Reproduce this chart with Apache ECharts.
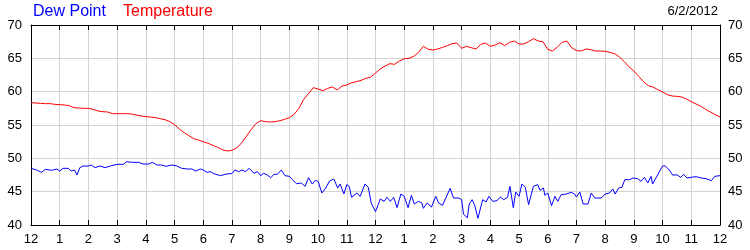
<!DOCTYPE html>
<html>
<head>
<meta charset="utf-8">
<script src="https://cdn.jsdelivr.net/npm/echarts@6/dist/echarts.min.js"></script>
<style>html,body{margin:0;padding:0;background:#fff}#c{width:750px;height:250px}</style>
</head>
<body>
<div id="c"></div>
<script>
// Temperature, every 10 minutes from midnight (145 readings)
var tempStartMin = 0;
var tempStepMin = 10;
var tempValues = [
  58.35,58.3,58.25,58.2,58.2,58.1,
  58.05,58.0,57.9,57.6,57.55,57.5,
  57.5,57.35,57.1,57.0,56.95,56.7,
  56.7,56.7,56.7,56.65,56.5,56.35,
  56.25,56.2,56.1,55.95,55.8,55.5,
  55.05,54.4,53.85,53.4,52.95,52.75,
  52.5,52.25,51.95,51.65,51.3,51.1,
  51.2,51.55,52.3,53.3,54.3,55.2,
  55.65,55.5,55.45,55.5,55.65,55.85,
  56.1,56.6,57.5,58.85,59.7,60.6,
  60.4,60.15,60.5,60.7,60.25,60.85,
  61.0,61.35,61.5,61.7,62.0,62.2,
  62.8,63.4,63.85,64.2,64.1,64.6,
  64.95,65.0,65.3,65.9,66.8,66.35,
  66.25,66.4,66.65,66.9,67.2,67.3,
  66.5,66.8,66.6,66.4,67.1,67.3,
  66.8,67.0,67.35,66.9,67.4,67.6,
  67.15,67.15,67.5,67.95,67.6,67.5,
  66.35,66.1,66.7,67.4,67.6,66.6,
  66.15,66.1,66.4,66.3,66.1,66.1,
  66.05,65.9,65.7,65.2,64.5,63.7,
  63.1,62.3,61.5,60.9,60.7,60.3,
  59.95,59.55,59.35,59.3,59.2,58.9,
  58.5,58.15,57.8,57.35,56.95,56.55,
  56.2
];
// Dew point readings: minutes since midnight and values
var dewMinutes = [0,12,22,30,43,54,60,67,78,84,91,96,102,109,120,126,134,144,155,168,180,193,200,210,225,234,246,254,263,273,282,294,305,315,327,336,344,354,360,368,375,382,396,406,414,420,426,434,441,448,456,466,473,480,486,494,501,508,515,523,531,540,545,555,565,573,580,588,594,600,608,616,624,633,641,646,654,660,665,670,681,688,698,705,711,720,730,738,744,751,758,765,773,780,788,795,801,810,817,820,828,837,846,852,860,867,876,883,894,900,904,912,916,922,927,934,944,951,957,965,974,981,988,996,1001,1008,1013,1020,1026,1033,1040,1050,1059,1064,1071,1074,1080,1088,1095,1101,1108,1119,1129,1136,1140,1147,1154,1164,1171,1178,1192,1200,1209,1216,1221,1228,1235,1241,1251,1258,1268,1275,1282,1289,1296,1299,1307,1314,1320,1325,1334,1341,1351,1358,1364,1371,1380,1390,1401,1411,1422,1429,1440];
var dewValues = [48.5,48.25,47.9,48.35,48.2,48.4,48.1,48.5,48.5,48.1,48.25,47.5,48.6,48.85,48.85,49.0,48.6,48.85,48.6,48.9,49.1,49.1,49.5,49.4,49.4,49.15,49.15,49.4,49.0,49.0,48.8,49.0,48.85,48.5,48.4,48.4,48.1,48.4,48.25,47.9,48.0,47.7,47.4,47.6,47.7,47.7,48.25,48.0,48.25,48.0,48.5,47.75,48.0,47.4,47.75,47.5,47.1,47.6,47.6,48.25,47.4,47.3,46.9,46.2,46.3,45.8,47.1,46.15,46.7,46.55,44.8,45.55,46.6,46.9,45.55,46.15,44.65,46.05,45.8,44.15,44.8,44.3,46.15,45.65,43.3,42.0,43.9,43.55,44.15,43.55,44.15,42.6,44.65,44.3,42.6,44.45,43.15,43.55,43.3,42.5,43.3,42.7,44.3,43.3,42.95,44.05,45.5,44.05,44.05,43.8,41.6,41.1,43.15,43.8,43.05,41.0,43.8,43.45,44.3,43.55,43.65,44.2,43.8,44.15,45.8,42.6,44.95,44.3,46.15,45.65,43.05,45.8,46.05,45.2,45.55,44.45,44.8,42.9,44.3,43.55,44.55,44.65,44.9,44.65,44.2,44.95,43.15,43.15,44.8,44.05,44.05,44.65,44.8,45.4,44.65,45.55,45.65,46.8,46.8,47.05,46.95,46.55,47.15,46.3,47.3,46.15,47.15,48.1,48.85,48.9,48.25,47.5,47.5,47.15,47.6,47.05,47.15,47.25,47.05,46.95,46.65,47.3,47.4];
var hourLabels = ['12','1','2','3','4','5','6','7','8','9','10','11','12','1','2','3','4','5','6','7','8','9','10','11','12'];
var yTicks = [40,45,50,55,60,65,70];
var titleDew = 'Dew Point';
var titleTemp = 'Temperature';
var dateText = '6/2/2012';

var tempData = tempValues.map(function(v,i){return [tempStartMin + i*tempStepMin, v];});
var dewData = dewValues.map(function(v,i){return [dewMinutes[i], v];});

var FONT = '"Liberation Sans", Arial, sans-serif';
var chart = echarts.init(document.getElementById('c'), null, {renderer:'canvas'});
chart.setOption({
  animation:false,
  backgroundColor:'#ffffff',
  title:[
    {text:titleDew, left:33, top:4, padding:0, textStyle:{color:'#0000ff', fontSize:16, fontWeight:'normal', fontFamily:FONT}},
    {text:titleTemp, left:123, top:4, padding:0, textStyle:{color:'#ff0000', fontSize:16, fontWeight:'normal', fontFamily:FONT}},
    {text:dateText, right:32, top:5, padding:0, textStyle:{color:'#000', fontSize:13, fontWeight:'normal', fontFamily:FONT}}
  ],
  grid:{left:31, right:30, top:25, bottom:25},
  xAxis:[
    {type:'value', min:0, max:1440, interval:60, position:'bottom',
     axisLine:{show:true, onZero:false, lineStyle:{color:'#000', width:1}},
     axisTick:{show:true, inside:true, length:5, lineStyle:{color:'#000'}},
     axisLabel:{color:'#000', fontSize:13, fontFamily:FONT, margin:8,
       formatter:function(v){return hourLabels[Math.round(v/60)];}},
     splitLine:{show:true, lineStyle:{color:'#d3d3d3', width:1}}},
    {type:'value', min:0, max:1440, interval:60, position:'top',
     axisLine:{show:true, onZero:false, lineStyle:{color:'#000', width:1}},
     axisTick:{show:true, inside:true, length:5, lineStyle:{color:'#000'}},
     axisLabel:{show:false}, splitLine:{show:false}}
  ],
  yAxis:[
    {type:'value', min:yTicks[0], max:yTicks[yTicks.length-1], interval:5, position:'left',
     axisLine:{show:true, onZero:false, lineStyle:{color:'#000'}},
     axisTick:{show:false},
     axisLabel:{color:'#000', fontSize:13, fontFamily:FONT, margin:9},
     splitLine:{show:true, lineStyle:{color:'#d3d3d3', width:1}}},
    {type:'value', min:yTicks[0], max:yTicks[yTicks.length-1], interval:5, position:'right',
     axisLine:{show:true, onZero:false, lineStyle:{color:'#000'}},
     axisTick:{show:false},
     axisLabel:{color:'#000', fontSize:13, fontFamily:FONT, margin:8},
     splitLine:{show:false}}
  ],
  series:[
    {name:'Temperature', type:'line', data:tempData, showSymbol:false, symbol:'none',
     lineStyle:{color:'#ff0000', width:1}, itemStyle:{color:'#ff0000'}},
    {name:'Dew Point', type:'line', data:dewData, showSymbol:false, symbol:'none',
     lineStyle:{color:'#0000ff', width:1}, itemStyle:{color:'#0000ff'}}
  ]
});
</script>
</body>
</html>
